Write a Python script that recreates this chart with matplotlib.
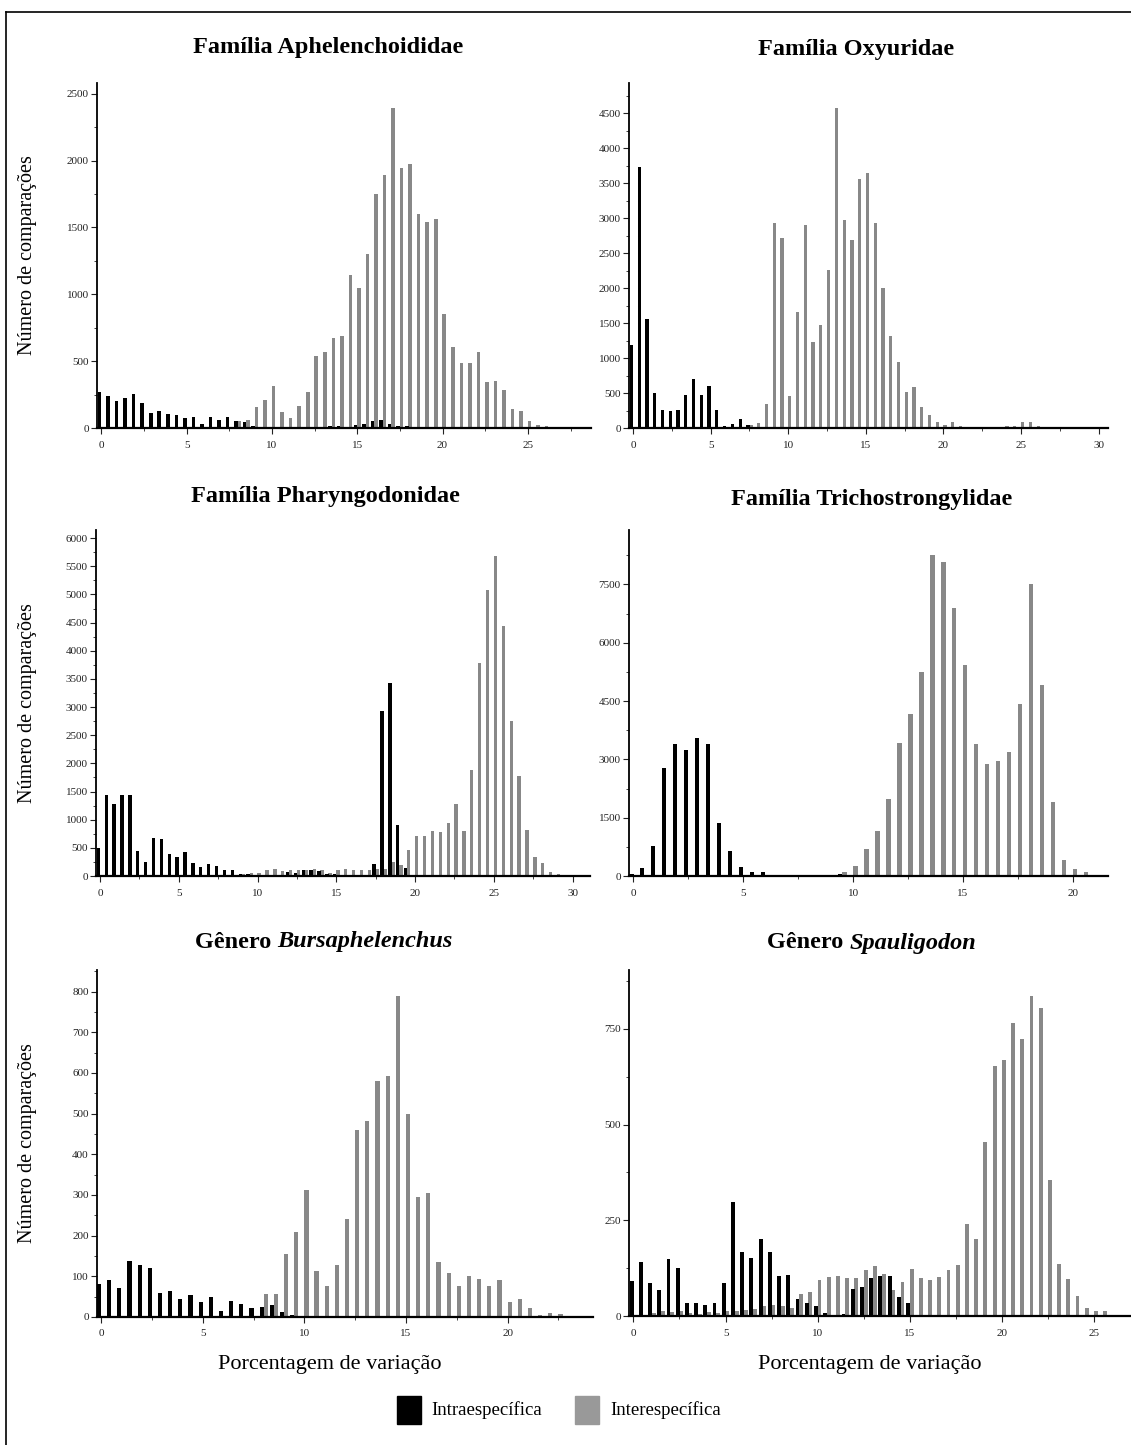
import numpy as np
import matplotlib.pyplot as plt
from matplotlib.lines import Line2D
from matplotlib.patches import Rectangle
from matplotlib.ticker import MultipleLocator

plt.rcParams['font.family'] = ['Liberation Serif', 'DejaVu Serif']

# ── Data (bins of 0.5 %) ──────────────────────────────────────────────────────
aph_intra_start = 0.0
aph_intra = [267, 237, 200, 224, 257, 184, 112, 125, 105, 100, 75, 80, 32, 85, 62, 82,
             50, 45, 17, 0, 0, 0, 0, 0, 0, 10, 0, 12, 15, 0, 20, 30, 55, 60, 30, 15, 15]
aph_inter_start = 8.0
aph_inter = [55, 57, 155, 212, 312, 117, 77, 167, 269, 536, 566, 673, 685, 1147, 1047,
             1304, 1750, 1892, 2393, 1944, 1974, 1603, 1540, 1565, 852, 603, 486, 486,
             571, 344, 349, 282, 140, 125, 55, 22, 15, 10]

oxy_intra_start = 0.0
oxy_intra = [1190, 3729, 1557, 500, 262, 238, 252, 467, 705, 476, 595, 257, 33, 62, 129,
             48, 0, 0, 12]
oxy_inter_start = 7.5
oxy_inter = [38, 71, 348, 2929, 2714, 462, 1652, 2905, 1224, 1476, 2262, 4571, 2976, 2690,
             3557, 3638, 2929, 2000, 1319, 943, 510, 586, 295, 181, 86, 38, 86, 33, 0, 0,
             5, 10, 19, 29, 33, 86, 86, 33, 0, 0, 0, 10]

pha_intra_start = 0.0
pha_intra = [497, 1432, 1284, 1432, 1432, 440, 240, 680, 650, 396, 337, 426, 237, 160, 207,
             178, 100, 100, 41, 30, 20, 0, 0, 0, 71, 59, 100, 100, 89, 41, 30, 0, 0, 0, 0,
             219, 2923, 3426, 899, 148]
pha_inter_start = 9.0
pha_inter = [30, 50, 60, 100, 130, 80, 100, 100, 110, 130, 100, 60, 100, 120, 100, 100, 100,
             120, 130, 240, 200, 456, 704, 716, 793, 781, 947, 1272, 793, 1888, 3781, 5071,
             5680, 4432, 2746, 1769, 822, 337, 231, 71, 30]

tri_intra_start = 0.0
tri_intra = [43, 215, 782, 2780, 3400, 3250, 3560, 3400, 1357, 653, 223, 112, 112, 25, 0,
             10, 0, 10, 10, 40]
tri_inter_start = 9.5
tri_inter = [112, 266, 696, 1168, 1976, 3419, 4167, 5249, 8256, 8084, 6890, 5421, 3400,
             2878, 2947, 3179, 4433, 7517, 4905, 1916, 412, 172, 112]

bur_intra_start = 0.0
bur_intra = [82, 90, 71, 138, 127, 120, 60, 65, 45, 55, 38, 48, 15, 40, 32, 22, 25, 30, 12, 5]
bur_inter_start = 8.0
bur_inter = [56, 56, 154, 209, 313, 113, 75, 127, 241, 460, 483, 580, 593, 788, 500, 295,
             305, 135, 108, 75, 102, 94, 75, 92, 38, 45, 22, 5, 10, 8]

spa_intra_start = 0.0
spa_intra = [91, 141, 87, 69, 148, 126, 35, 33, 28, 35, 85, 297, 167, 152, 202, 166, 104,
             108, 45, 35, 25, 8, 0, 5, 70, 75, 100, 105, 105, 50, 35]
spa_inter_start = 1.0
spa_inter = [8, 12, 10, 12, 8, 5, 10, 8, 12, 12, 15, 18, 25, 28, 25, 20,
             58, 63, 93, 102, 105, 100, 98, 121, 130, 109, 67, 89, 122, 98, 93, 102, 119,
             132, 240, 202, 455, 653, 670, 766, 725, 835, 805, 356, 135, 96, 52, 20, 12, 12]

titles = [("Família Aphelenchoididae", None), ("Família Oxyuridae", None),
          ("Família Pharyngodonidae", None), ("Família Trichostrongylidae", None),
          ("Gênero ", "Bursaphelenchus"), ("Gênero ", "Spauligodon")]

BLACK = "#000000"
GRAY = "#888888"
W, H = 1131, 1445
BIN = 0.5
TITLE_FS = 17.5

# panel layout in pixels: left, right, top, bottom
panels = [
    dict(intra=(aph_intra_start, aph_intra), inter=(aph_inter_start, aph_inter),
         box=(97, 591, 83, 428), xlim=(-0.25, 28.7), ylim=(0, 2580), ymaj=500, ymin=250, xmax=25),
    dict(intra=(oxy_intra_start, oxy_intra), inter=(oxy_inter_start, oxy_inter),
         box=(629, 1108, 83, 428), xlim=(-0.26, 30.6), ylim=(0, 4930), ymaj=500, ymin=250, xmax=30),
    dict(intra=(pha_intra_start, pha_intra), inter=(pha_inter_start, pha_inter),
         box=(96, 590, 530, 876), xlim=(-0.25, 31.1), ylim=(0, 6145), ymaj=500, ymin=250, xmax=30),
    dict(intra=(tri_intra_start, tri_intra), inter=(tri_inter_start, tri_inter),
         box=(629, 1108, 530, 876), xlim=(-0.2, 21.6), ylim=(0, 8900), ymaj=1500, ymin=750, xmax=20),
    dict(intra=(bur_intra_start, bur_intra), inter=(bur_inter_start, bur_inter),
         box=(97, 593, 970, 1317), xlim=(-0.2, 24.2), ylim=(0, 853), ymaj=100, ymin=50, xmax=20),
    dict(intra=(spa_intra_start, spa_intra), inter=(spa_inter_start, spa_inter),
         box=(629, 1131, 970, 1316), xlim=(-0.24, 27.0), ylim=(0, 904), ymaj=250, ymin=125, xmax=25),
]
title_x = [328, 856, 325, 872, 324, 872]
title_y = [48, 50, 497, 499, 942, 943]

fig = plt.figure(figsize=(W / 100, H / 100), dpi=100)

for i, p in enumerate(panels):
    l, r, t, b = p["box"]
    ax = fig.add_axes([l / W, 1 - b / H, (r - l) / W, (b - t) / H])
    s0, v0 = p["inter"]
    xg = s0 + BIN * np.arange(len(v0))
    ax.bar(xg + 0.1, v0, width=0.21, color=GRAY, linewidth=0, zorder=2)
    s1, v1 = p["intra"]
    xb = s1 + BIN * np.arange(len(v1))
    ax.bar(xb - 0.1, v1, width=0.21, color=BLACK, linewidth=0, zorder=3)

    ax.set_xlim(*p["xlim"])
    ax.set_ylim(*p["ylim"])
    ax.set_xticks(np.arange(0, p["xmax"] + 1, 5))
    ax.xaxis.set_minor_locator(MultipleLocator(2.5))
    ax.yaxis.set_major_locator(MultipleLocator(p["ymaj"]))
    ax.yaxis.set_minor_locator(MultipleLocator(p["ymin"]))
    for side in ("top", "right"):
        ax.spines[side].set_visible(False)
    ax.spines["left"].set_linewidth(1.3)
    ax.spines["bottom"].set_linewidth(1.6)
    ax.tick_params(axis="both", which="major", direction="out", length=4, width=0.8,
                   labelsize=8, colors="#222222", pad=2)
    ax.tick_params(axis="both", which="minor", direction="out", length=2.5, width=0.6,
                   colors="#222222")
    ax.tick_params(axis="x", pad=5)
    ax.set_facecolor("none")

    name, italic = titles[i]
    ty = 1 - title_y[i] / H
    if italic is None:
        fig.text(title_x[i] / W, ty, name, ha="center", va="center",
                 fontsize=TITLE_FS, fontweight="bold")
    else:
        # regular word + italic genus name, centred together
        tx = fig.text(0, ty, name, ha="right", va="center",
                      fontsize=TITLE_FS, fontweight="bold")
        ti = fig.text(0, ty, italic, ha="left", va="center",
                      fontsize=TITLE_FS, fontweight="bold", fontstyle="italic")
        fig.canvas.draw()
        wn = tx.get_window_extent().width
        wi = ti.get_window_extent().width
        x0 = title_x[i] - (wn + wi) / 2
        tx.set_position(((x0 + wn) / W, ty))
        ti.set_position(((x0 + wn) / W, ty))

# y labels
for yc in [(83 + 428) / 2, (530 + 876) / 2, (970 + 1317) / 2]:
    fig.text(28 / W, 1 - yc / H, "Número de comparações", rotation=90, ha="center",
             va="center", fontsize=14.5)

# x labels
for xc in [330, 870]:
    fig.text(xc / W, 1 - 1364 / H, "Porcentagem de variação", ha="center", va="center",
             fontsize=16)

# legend
fig.add_artist(Rectangle((397 / W, 1 - 1424 / H), 24 / W, 28 / H, color=BLACK,
                         transform=fig.transFigure))
fig.text(431 / W, 1 - 1410 / H, "Intraespecífica", ha="left", va="center", fontsize=13.5)
fig.add_artist(Rectangle((575 / W, 1 - 1424 / H), 24 / W, 28 / H, color="#999999",
                         transform=fig.transFigure))
fig.text(610 / W, 1 - 1410 / H, "Interespecífica", ha="left", va="center", fontsize=13.5)

# frame (left and top edge)
fig.add_artist(Line2D([6 / W, 6 / W], [0, 1 - 12 / H], color="black", lw=1.2,
                      transform=fig.transFigure))
fig.add_artist(Line2D([6 / W, 1], [1 - 12 / H, 1 - 12 / H], color="black", lw=1.2,
                      transform=fig.transFigure))

plt.savefig("out.png", dpi=100)
plt.close()
